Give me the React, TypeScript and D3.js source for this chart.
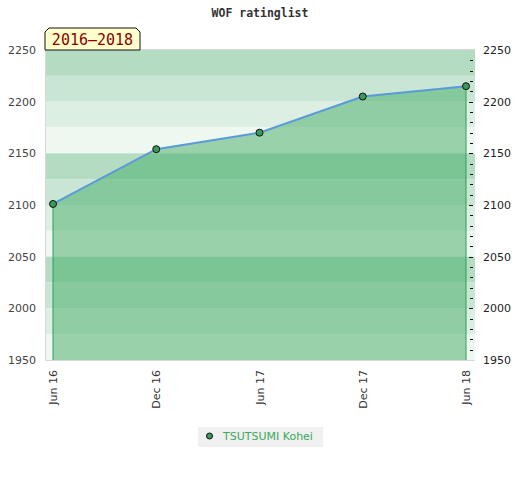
import React from "react";
import * as d3 from "d3";

const title = "WOF ratinglist";
const periodLabel = "2016–2018";
const seriesName = "TSUTSUMI Kohei";
const dates = ["Jun 16", "Dec 16", "Jun 17", "Dec 17", "Jun 18"];
const ratings = [2101, 2154, 2170, 2205, 2215];
const yTicks = [1950, 2000, 2050, 2100, 2150, 2200, 2250];
const bandColors = ["#b3dcc2", "#c9e6d4", "#ddeee3", "#eef7f0"];

const W = 520;
const H = 480;
const left = 45;
const right = 475;
const top = 50;
const bottom = 360;

export default function App() {
  const x = d3.scalePoint<string>().domain(dates).range([53, 466]);
  const y = d3.scaleLinear().domain([1950, 2250]).range([bottom, top]);

  const bands = d3.range(2250, 1950, -25).map((v, i) => ({
    y0: y(v),
    y1: y(v - 25),
    c: bandColors[i % 4],
  }));

  const pts = dates.map((d, i) => ({ d, v: ratings[i] }));
  const area = d3
    .area<{ d: string; v: number }>()
    .x((p) => x(p.d) as number)
    .y0(bottom)
    .y1((p) => y(p.v));
  const line = d3
    .line<{ d: string; v: number }>()
    .x((p) => x(p.d) as number)
    .y((p) => y(p.v));

  const minor = d3.range(1960, 2250, 10);
  const first = pts[0];
  const last = pts[pts.length - 1];

  return (
    <svg width={W} height={H} style={{ display: "block", position: "absolute", left: 0, top: 0 }}>
      <rect x={0} y={0} width={W} height={H} fill="#fff" />
      <text
        x={260}
        y={17}
        textAnchor="middle"
        fontFamily="'DejaVu Sans Mono', monospace"
        fontWeight="bold"
        fontSize={11.5}
        fill="#333"
      >
        {title}
      </text>
      {bands.map((b, i) => (
        <rect key={i} x={left} y={b.y0} width={right - left} height={b.y1 - b.y0} fill={b.c} />
      ))}
      <path d={area(pts) || ""} fill="#44ab66" fillOpacity={0.5} />
      <line x1={x(first.d)} x2={x(first.d)} y1={y(first.v)} y2={bottom} stroke="#2e9e55" strokeWidth={1} />
      <line x1={x(last.d)} x2={x(last.d)} y1={y(last.v)} y2={bottom} stroke="#2e9e55" strokeWidth={1} />
      <path d={line(pts) || ""} fill="none" stroke="#5a9ad8" strokeWidth={2} />
      {pts.map((p, i) => (
        <circle key={i} cx={x(p.d)} cy={y(p.v)} r={3.5} fill="#3a9a5a" stroke="#111" strokeWidth={1} />
      ))}
      <path
        d={`M${left + 0.5},${top} V${bottom + 0.5} H${right}`}
        fill="none"
        stroke="#d8d8d8"
        strokeWidth={1}
      />
      <line x1={left} x2={right} y1={top - 0.5} y2={top - 0.5} stroke="#d8d8d8" />
      {minor.map((v) => (
        <line
          key={v}
          x1={v % 50 === 0 ? 469 : 470}
          x2={473}
          y1={Math.round(y(v)) + 0.5}
          y2={Math.round(y(v)) + 0.5}
          stroke="#111"
          strokeWidth={1}
        />
      ))}
      {yTicks.map((v) => (
        <text
          key={"l" + v}
          x={36}
          y={y(v)}
          dy="0.35em"
          textAnchor="end"
          fontFamily="'DejaVu Sans', sans-serif"
          fontSize={11}
          fill="#444"
        >
          {v}
        </text>
      ))}
      {yTicks.map((v) => (
        <text
          key={"r" + v}
          x={483}
          y={y(v)}
          dy="0.35em"
          textAnchor="start"
          fontFamily="'DejaVu Sans', sans-serif"
          fontSize={11}
          fill="#222"
        >
          {v}
        </text>
      ))}
      {dates.map((d) => (
        <text
          key={d}
          transform={`translate(${(x(d) as number) + 4},370) rotate(-90)`}
          textAnchor="end"
          fontFamily="'DejaVu Sans', sans-serif"
          fontSize={11}
          fill="#333"
        >
          {d}
        </text>
      ))}
      <path
        d={`M45,50 V32 L49,28 H136 L140,32 V50 Z`}
        fill="#ffffcc"
        stroke="#111"
        strokeWidth={1}
      />
      <text
        x={92.5}
        y={45}
        textAnchor="middle"
        fontFamily="'DejaVu Sans Mono', monospace"
        fontSize={15}
        fill="#8b0000"
      >
        {periodLabel}
      </text>
      <rect x={198} y={427} width={125} height={20} fill="#f0f0f0" />
      <circle cx={209.5} cy={436} r={3} fill="#3a9a5a" stroke="#111" strokeWidth={1} />
      <text
        x={223}
        y={440}
        fontFamily="'DejaVu Sans', sans-serif"
        fontSize={11}
        fill="#3aaa5a"
      >
        {seriesName}
      </text>
    </svg>
  );
}
